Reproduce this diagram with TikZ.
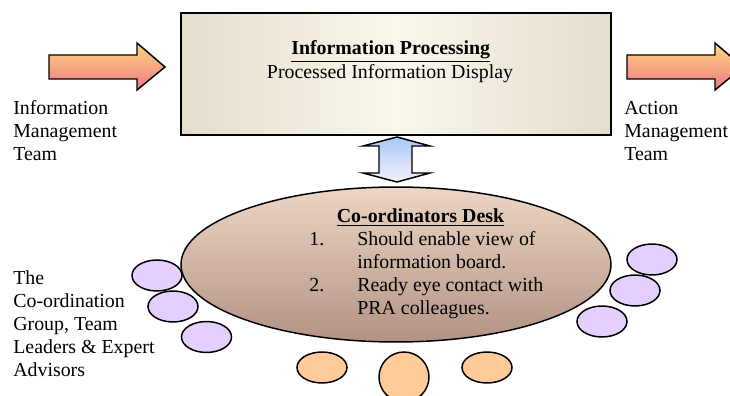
\documentclass[tikz,border=0pt]{standalone}
\usepackage{fontspec}
\setmainfont{Liberation Serif}
\usepackage{tikz}
\usetikzlibrary{shapes.geometric}

\definecolor{boxedge}{RGB}{228,222,205}
\definecolor{boxmid}{RGB}{250,246,236}
\definecolor{arrowtop}{RGB}{255,214,128}
\definecolor{arrowbottom}{RGB}{236,122,132}
\definecolor{linktop}{RGB}{168,200,246}
\definecolor{linkbottom}{RGB}{244,240,250}
\definecolor{desktop}{RGB}{236,214,196}
\definecolor{deskbottom}{RGB}{178,146,132}
\definecolor{memberfill}{RGB}{227,208,255}
\definecolor{advisorfill}{RGB}{255,204,153}

\tikzset{
  outline/.style={draw=black, line width=0.9pt},
  seat/.style={outline, ellipse, inner sep=0pt, minimum width=30.2pt, minimum height=18.7pt},
  member/.style={seat, fill=memberfill},
  advisor/.style={seat, fill=advisorfill},
  caption/.style={inner sep=0pt, anchor=base west},
  flowarrow/.style={outline, top color=arrowtop, bottom color=arrowbottom}
}

\begin{document}
\begin{tikzpicture}[x=0.604pt, y=-0.604pt, font={\fontsize{12}{13.8}\selectfont}]
\useasboundingbox (0,0) rectangle (730,396);
\clip (0,0) rectangle (730,396);

\node[outline, rectangle, inner sep=0pt, minimum width=259.7pt, minimum height=73.7pt,
      left color=boxedge, right color=boxedge, middle color=boxmid] (display) at (396,74) {};
\node[inner sep=0pt, anchor=base] (displaytitle) at (390.7,55) {\underline{\textbf{Information Processing}}};
\node[inner sep=0pt, anchor=base] (displaytext) at (390,79) {Processed Information Display};

\draw[flowarrow] (49,55) -- (137,55) -- (137,43) -- (165,67) -- (137,90) -- (137,79) -- (49,79) -- cycle;
\draw[flowarrow] (627,55) -- (715,55) -- (715,43) -- (743,67) -- (715,90) -- (715,79) -- (627,79) -- cycle;

\node[caption] (inteam) at (13,115) {\begin{tabular}[t]{@{}l@{}}Information\\Management\\Team\end{tabular}};
\node[caption] (outteam) at (624,115) {\begin{tabular}[t]{@{}l@{}}Action\\Management\\Team\end{tabular}};

\node[outline, ellipse, inner sep=0pt, minimum width=259.7pt, minimum height=93.6pt,
      top color=desktop, bottom color=deskbottom] (desk) at (396,264.5) {};

\draw[outline, top color=linktop, bottom color=linkbottom]
  (397,137) -- (430,146) -- (412,146) -- (412,173) -- (430,173) -- (397,182)
  -- (363,173) -- (379,173) -- (379,146) -- (363,146) -- cycle;

\node[inner sep=0pt, anchor=base] (desktitle) at (420.5,222.7) {\underline{\textbf{Co-ordinators Desk}}};
\node[caption] (desklist) at (309,245.7) {\begin{tabular}[t]{@{}p{29pt}@{}l@{}}
1. & Should enable view of\\
   & information board.\\
2. & Ready eye contact with\\
   & PRA colleagues.
\end{tabular}};

\node[member] (m1) at (157,275.5) {};
\node[member] (m2) at (173,306.5) {};
\node[member] (m3) at (206.5,337) {};
\node[member] (m4) at (652,259.5) {};
\node[member] (m5) at (635,290.5) {};
\node[member] (m6) at (602,321.5) {};

\node[advisor] (a1) at (322,367.5) {};
\node[advisor, minimum height=30.2pt] (a2) at (404,377) {};
\node[advisor] (a3) at (487,367.5) {};

\node[caption] (group) at (13,285) {\begin{tabular}[t]{@{}l@{}}The\\Co-ordination\\Group, Team\\Leaders \& Expert\\Advisors\end{tabular}};
\end{tikzpicture}
\end{document}
